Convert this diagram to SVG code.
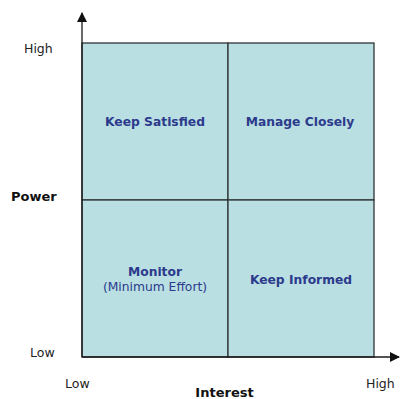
<svg xmlns="http://www.w3.org/2000/svg" width="400" height="399" viewBox="0 0 400 399">
<style>
.cell{fill:#b9dfe2;stroke:#2f3538;stroke-width:1.3}
.q{font-family:"DejaVu Sans",Verdana,sans-serif;font-size:12.3px;font-weight:bold;fill:#2c3a8c;text-anchor:middle}
.qs{font-family:"DejaVu Sans",Verdana,sans-serif;font-size:12.3px;fill:#2c3a8c;text-anchor:middle}
.lab{font-family:"DejaVu Sans",Verdana,sans-serif;font-size:12.5px;fill:#222}
.axt{font-family:"DejaVu Sans",Verdana,sans-serif;font-size:13px;font-weight:bold;fill:#111}
.axis{stroke:#1a1a1a;stroke-width:1.3;fill:none}
</style>
<defs>
<marker id="arr" viewBox="0 0 10 10" refX="9" refY="5" markerWidth="10" markerHeight="10" markerUnits="userSpaceOnUse" orient="auto">
<path d="M0,0 L10,5 L0,10 Z" fill="#111"/>
</marker>
</defs>
<rect width="400" height="399" fill="#fff"/>
<g id="keep-satisfied">
<rect class="cell" x="82" y="43" width="146" height="157"/>
<text class="q" x="155" y="126">Keep Satisfied</text>
</g>
<g id="manage-closely">
<rect class="cell" x="228" y="43" width="146" height="157"/>
<text class="q" x="300" y="126">Manage Closely</text>
</g>
<g id="monitor">
<rect class="cell" x="82" y="200" width="146" height="157"/>
<text class="q" x="155" y="275.5">Monitor</text>
<text class="qs" x="155" y="290.5">(Minimum Effort)</text>
</g>
<g id="keep-informed">
<rect class="cell" x="228" y="200" width="146" height="157"/>
<text class="q" x="301" y="284">Keep Informed</text>
</g>
<g id="connectors">
<line class="axis" x1="82" y1="357" x2="82" y2="13" marker-end="url(#arr)"/>
<line class="axis" x1="82" y1="357" x2="399" y2="357" marker-end="url(#arr)"/>
</g>
<g id="labels">
<text class="lab" x="24" y="53">High</text>
<text class="axt" x="11" y="200.5">Power</text>
<text class="lab" x="30" y="357">Low</text>
<text class="lab" x="65" y="388">Low</text>
<text class="axt" x="224.5" y="397" text-anchor="middle">Interest</text>
<text class="lab" x="366" y="388">High</text>
</g>
</svg>
